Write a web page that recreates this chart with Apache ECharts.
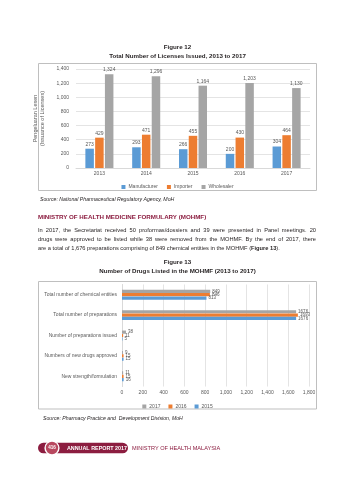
<!DOCTYPE html>
<html><head><meta charset="utf-8">
<script src="https://cdn.jsdelivr.net/npm/echarts@6/dist/echarts.min.js"></script>
<style>
html,body{margin:0;padding:0;background:#fff;}
#c{position:absolute;left:0;top:0;width:355px;height:480px;}
#para{position:absolute;left:38px;top:225.5px;width:556px;transform:scale(0.5);transform-origin:0 0;
 font-family:"Liberation Sans",Arial,sans-serif;font-size:11.4px;line-height:17.4px;color:#231f20;}
#para div{text-align:justify;text-align-last:justify;white-space:nowrap;}
#para div.last{text-align-last:left;}
</style></head>
<body>
<div id="c"></div>
<div id="para">
<div>In 2017, the Secretariat received 50 proformas/dossiers and 39 were presented in Panel meetings. 20</div>
<div>drugs were approved to be listed while 38 were removed from the MOHMF. By the end of 2017, there</div>
<div class="last">are a total of 1,676 preparations comprising of 849 chemical entities in the MOHMF (<b>Figure 13</b>).</div>
</div>
<script>
// Figure 12 data
const years = ['2013', '2014', '2015', '2016', '2017'];
const manufacturer = [273, 293, 266, 200, 304];
const importer = [429, 471, 455, 430, 464];
const wholesaler = [1324, 1296, 1164, 1203, 1130];

// Figure 13 data
const drugCategories = ['Total number of chemical entities', 'Total number of preparations', 'Number of preparations issued', 'Numbers of new drugs approved', 'New strength/formulation'];
const drugs2017 = [849, 1676, 38, 9, 11];
const drugs2016 = [846, 1693, 11, 15, 15];
const drugs2015 = [813, 1676, 5, 15, 16];

const FONT = '"Liberation Sans", Arial, sans-serif';
const LBL = '#595959';
const BLUE = '#5b9bd5', ORANGE = '#ed7d31', GRAY = '#a5a5a5';
const RED = '#8c1d40';
const fmt = v => v.toLocaleString('en-US');

const chart = echarts.init(document.getElementById('c'), null, {renderer: 'canvas'});

function vbar(name, data, color) {
  return {
    name, type: 'bar', xAxisIndex: 0, yAxisIndex: 0, data,
    barWidth: 8.5, barGap: '15%',
    itemStyle: {color},
    label: {show: true, position: 'top', distance: 2, fontSize: 5, color: LBL, fontFamily: FONT,
      formatter: p => fmt(p.value)}
  };
}
function hbar(name, data, color) {
  return {
    name, type: 'bar', xAxisIndex: 1, yAxisIndex: 1, data,
    barWidth: 3.2, barGap: '5%',
    itemStyle: {color},
    label: {show: true, position: 'right', distance: 2, fontSize: 4.5, color: LBL, fontFamily: FONT,
      formatter: p => String(p.value)}
  };
}

const option = {
  animation: false,
  textStyle: {fontFamily: FONT},
  grid: [
    {left: 76, right: 45, top: 69, bottom: 312},
    {left: 122, right: 46, top: 284.5, bottom: 93.5}
  ],
  xAxis: [
    {type: 'category', gridIndex: 0, data: years,
      axisLine: {lineStyle: {color: '#d9d9d9'}}, axisTick: {show: false},
      axisLabel: {fontSize: 5, color: LBL, margin: 3, fontFamily: FONT}},
    {type: 'value', gridIndex: 1, min: 0, max: 1800, interval: 200,
      axisLine: {show: false}, axisTick: {show: false},
      splitLine: {lineStyle: {color: '#d9d9d9', width: 0.7}},
      axisLabel: {fontSize: 5, color: LBL, margin: 4, fontFamily: FONT, formatter: v => fmt(v)}}
  ],
  yAxis: [
    {type: 'value', gridIndex: 0, min: 0, max: 1400, interval: 200,
      axisLine: {show: false}, axisTick: {show: false},
      splitLine: {lineStyle: {color: '#d9d9d9', width: 0.7}},
      axisLabel: {fontSize: 5, color: LBL, margin: 7, fontFamily: FONT, formatter: v => fmt(v)},
      name: 'Pengeluaran Lesen\n(Issuance of Licenses)', nameLocation: 'middle', nameRotate: 90, nameGap: 21,
      nameTextStyle: {fontSize: 5.5, color: LBL, lineHeight: 7, fontFamily: FONT}},
    {type: 'category', gridIndex: 1, data: drugCategories, inverse: true,
      axisLine: {lineStyle: {color: '#d9d9d9'}}, axisTick: {show: false},
      axisLabel: {fontSize: 5, color: LBL, margin: 5, fontFamily: FONT}}
  ],
  legend: [
    {data: ['Manufacturer', 'Importer', 'Wholesaler'], left: 'center', top: 179.5,
      itemWidth: 4, itemHeight: 4, itemGap: 9, icon: 'rect',
      textStyle: {fontSize: 5, color: LBL, padding: [0, 0, 0, -2]}},
    {data: ['2017', '2016', '2015'], left: 'center', top: 399,
      itemWidth: 4, itemHeight: 4, itemGap: 8, icon: 'rect',
      textStyle: {fontSize: 5, color: LBL, padding: [0, 0, 0, -2]}}
  ],
  series: [
    vbar('Manufacturer', manufacturer, BLUE),
    vbar('Importer', importer, ORANGE),
    vbar('Wholesaler', wholesaler, GRAY),
    hbar('2017', drugs2017, GRAY),
    hbar('2016', drugs2016, ORANGE),
    hbar('2015', drugs2015, BLUE)
  ],
  graphic: [
    {type: 'rect', shape: {x: 38.5, y: 63.5, width: 278, height: 127}, style: {fill: null, stroke: '#bfbfbf', lineWidth: 1}, silent: true},
    {type: 'rect', shape: {x: 38.5, y: 281.5, width: 278, height: 127.5}, style: {fill: null, stroke: '#bfbfbf', lineWidth: 1}, silent: true},
    {type: 'text', x: 177.5, y: 47, style: {text: 'Figure 12', font: 'bold 6.2px ' + FONT, fill: '#231f20', textAlign: 'center', textVerticalAlign: 'middle'}},
    {type: 'text', x: 177.5, y: 56, style: {text: 'Total Number of Licenses Issued, 2013 to 2017', font: 'bold 6.2px ' + FONT, fill: '#231f20', textAlign: 'center', textVerticalAlign: 'middle'}},
    {type: 'text', x: 40, y: 200, style: {text: 'Source: National Pharmaceutical Regulatory Agency, MoH', font: 'italic 5.2px ' + FONT, fill: '#231f20', textVerticalAlign: 'middle'}},
    {type: 'text', x: 38, y: 217.5, style: {text: 'MINISTRY OF HEALTH MEDICINE FORMULARY (MOHMF)', font: 'bold 6.2px ' + FONT, fill: RED, textVerticalAlign: 'middle'}},
    {type: 'text', x: 177.5, y: 262.7, style: {text: 'Figure 13', font: 'bold 6.2px ' + FONT, fill: '#231f20', textAlign: 'center', textVerticalAlign: 'middle'}},
    {type: 'text', x: 177.5, y: 271, style: {text: 'Number of Drugs Listed in the MOHMF (2013 to 2017)', font: 'bold 6.2px ' + FONT, fill: '#231f20', textAlign: 'center', textVerticalAlign: 'middle'}},
    {type: 'text', x: 43, y: 419, style: {text: 'Source: Pharmacy Practice and  Development Division, MoH', font: 'italic 5.2px ' + FONT, fill: '#231f20', textVerticalAlign: 'middle'}},
    // footer
    {type: 'rect', shape: {x: 38, y: 442.7, width: 90, height: 10.6, r: 5.3}, style: {fill: RED}},
    {type: 'circle', shape: {cx: 52, cy: 448, r: 7.6}, style: {fill: '#ffffff'}},
    {type: 'circle', shape: {cx: 52, cy: 448, r: 6.2}, style: {fill: '#b8485f'}},
    {type: 'text', x: 52, y: 448, style: {text: '416', font: 'bold 4.6px ' + FONT, fill: '#ffffff', textAlign: 'center', textVerticalAlign: 'middle'}},
    {type: 'text', x: 97, y: 448.2, style: {text: 'ANNUAL REPORT 2017', font: 'bold 5.4px "Liberation Sans Narrow", ' + FONT, fill: '#ffffff', textAlign: 'center', textVerticalAlign: 'middle'}},
    {type: 'text', x: 132, y: 448.2, style: {text: 'MINISTRY OF HEALTH MALAYSIA', font: '5.6px "Liberation Sans Narrow", ' + FONT, fill: RED, textVerticalAlign: 'middle'}}
  ]
};
chart.setOption(option);
</script>
</body></html>
